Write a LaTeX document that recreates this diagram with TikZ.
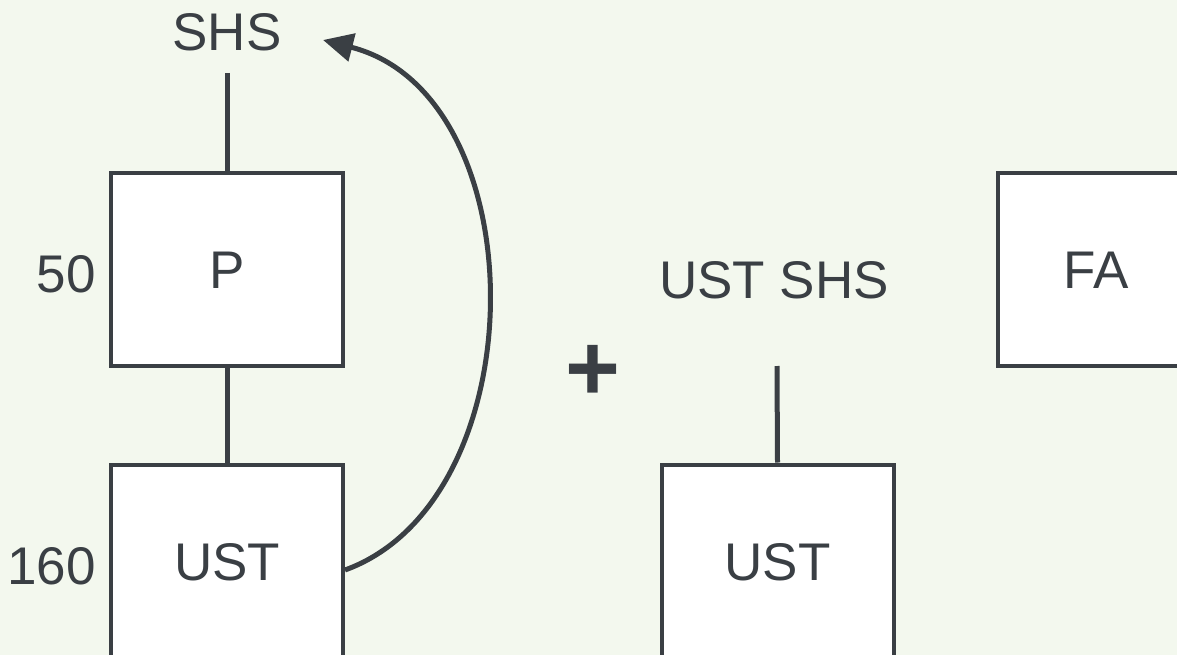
\documentclass[tikz,border=0pt]{standalone}
\usepackage{fontspec}
\setmainfont{Liberation Sans}
\usetikzlibrary{arrows.meta}
\definecolor{ink}{HTML}{3A3F44}
\definecolor{paper}{HTML}{F3F8EE}
\tikzset{
  blk/.style={draw=ink, line width=4pt, fill=white, minimum width=232pt,
    minimum height=193pt, inner sep=0pt, text=ink,
    font=\fontsize{53}{60}\selectfont, text height=38pt, text depth=0pt},
  lbl/.style={text=ink, inner sep=0pt, font=\fontsize{53}{60}\selectfont,
    text height=38pt, text depth=0pt},
  link/.style={draw=ink, line width=5pt},
  loop/.style={draw=ink, line width=5pt, -{Triangle[length=30pt,width=28pt]}},
}
\begin{document}
\begin{tikzpicture}[x=1pt, y=-1pt]
  \fill[paper] (0,0) rectangle (1177,655);
  \useasboundingbox (0,0) rectangle (1177,655);
  \begin{scope}
    \clip (0,0) rectangle (1177,655);
    % left column: SHS above P above UST
    \node[lbl] (shs) at (227,32) {SHS};
    \coordinate (shsfoot) at (227,73);
    \node[blk] (p) at (227,269.5) {P};
    \node[blk] (ust) at (227,561) {UST};
    \node[lbl, anchor=east] (w50) at (96,273) {50};
    \node[lbl, anchor=east] (w160) at (96,565) {160};
    \draw[link] (shsfoot) -- (p.north);
    \draw[link] (p.south) -- (ust.north);
    \draw[loop] (ust.east |- 0,570) .. controls (538,500) and (538,95) .. (323,40);
    % plus sign
    \node[text=ink, inner sep=0pt, font=\fontsize{94}{100}\selectfont\bfseries] (plus) at (593,373) {+};
    % middle column
    \node[lbl] (ustshs) at (774,279) {UST SHS};
    \coordinate (ustshsfoot) at (777,366);
    \node[blk] (ust2) at (777.5,561) {UST};
    \draw[link] (ustshsfoot) -- (ust2.north);
    % right column
    \node[blk, minimum width=196pt] (fa) at (1096,269.5) {FA};
  \end{scope}
\end{tikzpicture}
\end{document}
